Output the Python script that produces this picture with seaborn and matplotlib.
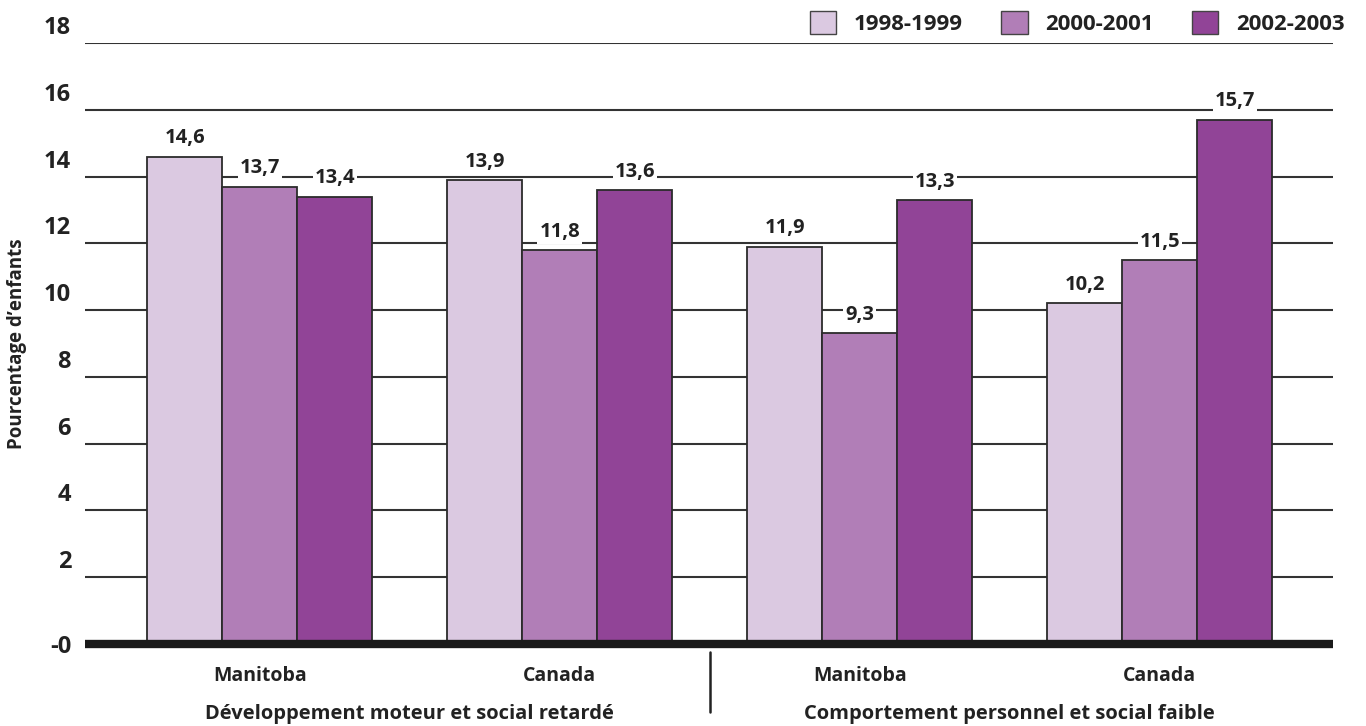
import matplotlib
matplotlib.use("Agg")
import matplotlib.pyplot as plt
import matplotlib.transforms as mtransforms
import seaborn as sns
import pandas as pd

# Data
groups = ["Développement moteur et social retardé", "Comportement personnel et social faible"]
regions = ["Manitoba", "Canada"]
periods = ["1998-1999", "2000-2001", "2002-2003"]
dev_manitoba = [14.6, 13.7, 13.4]
dev_canada = [13.9, 11.8, 13.6]
comp_manitoba = [11.9, 9.3, 13.3]
comp_canada = [10.2, 11.5, 15.7]
ytick_values = [0, 2, 4, 6, 8, 10, 12, 14, 16, 18]
ytick_labels = ["-0", "2", "4", "6", "8", "10", "12", "14", "16", "18"]
ylabel = "Pourcentage d’enfants"

colors = ["#DBC9E1", "#B17EB7", "#914497"]
edge = "#2b2b2b"
txt = "#222222"

series = [
    (groups[0], regions[0], dev_manitoba),
    (groups[0], regions[1], dev_canada),
    (groups[1], regions[0], comp_manitoba),
    (groups[1], regions[1], comp_canada),
]
rows = []
keys = []
for g, r, vals in series:
    key = f"{g} | {r}"
    keys.append(key)
    for p, v in zip(periods, vals):
        rows.append({"cat": key, "period": p, "value": v})
df = pd.DataFrame(rows)

sns.set_theme(style="white")
plt.rcParams["font.family"] = ["Open Sans", "DejaVu Sans"]

fig = plt.figure(figsize=(13.66, 7.26), dpi=100)
ax = fig.add_axes([0.0622, 0.1129, 0.9136, 0.8279])

sns.barplot(data=df, x="cat", y="value", hue="period", order=keys,
            hue_order=periods, palette=colors, saturation=1, width=0.75,
            dodge=True, edgecolor=edge, linewidth=1.3, errorbar=None,
            legend=True, ax=ax, zorder=3)

ax.set_xlim(-0.583, 3.577)
ax.set_ylim(0, 18)

# Gridlines
for v in ytick_values[1:]:
    ax.axhline(v, color="#333333", lw=1.5, zorder=1)

for s in ["top", "right", "left", "bottom"]:
    ax.spines[s].set_visible(False)

# Thick baseline
ax.axhline(0, color="#1a1a1a", lw=6, solid_capstyle="butt", clip_on=False, zorder=5)

# Y tick labels sit just above their gridlines
ax.set_yticks(ytick_values)
ax.set_yticklabels(ytick_labels, fontsize=17, fontweight="bold", color=txt)
ax.tick_params(axis="y", length=0, pad=10)
offset = mtransforms.ScaledTranslation(0, 18 / 100, fig.dpi_scale_trans)
for lab in ax.get_yticklabels():
    if lab.get_text() != "-0":
        lab.set_transform(lab.get_transform() + offset)

ax.set_ylabel(ylabel, fontsize=13.5, fontweight="bold", color=txt, labelpad=12)

# Category labels
ax.set_xticks(range(len(keys)))
ax.set_xticklabels([r for _, r, _ in series], fontsize=14, fontweight="bold", color=txt)
ax.tick_params(axis="x", length=0, pad=16)
ax.set_xlabel("")

# Group labels and separator
for i, g in enumerate(groups):
    ax.text(0.5 + 2 * i, -0.116, g, transform=ax.get_xaxis_transform(),
            ha="center", va="center", fontsize=14.5, fontweight="bold", color=txt)
ax.plot([1.5, 1.5], [-0.013, -0.113], transform=ax.get_xaxis_transform(),
        color=txt, lw=1.8, clip_on=False)

# Value labels
for cont in ax.containers:
    labels = [f"{b.get_height():.1f}".replace(".", ",") for b in cont]
    texts = ax.bar_label(cont, labels=labels, padding=6, fontsize=14.5,
                         fontweight="bold", color=txt)
    for t in texts:
        t.set_bbox(dict(facecolor="white", edgecolor="none", pad=1.5))
        t.set_zorder(4)

# Legend
ax.legend_.remove()
handles = [plt.Rectangle((0, 0), 1, 1, facecolor=c, edgecolor="#444444", lw=1) for c in colors]
leg = fig.legend(handles, periods, loc="upper right", bbox_to_anchor=(0.999, 1.012),
                 ncol=3, frameon=False, handlelength=1.2, handleheight=1.2,
                 columnspacing=1.7, handletextpad=0.8,
                 prop={"family": ["Open Sans", "DejaVu Sans"], "weight": "bold", "size": 16})
for t in leg.get_texts():
    t.set_color(txt)

fig.savefig("out.png", dpi=100, facecolor="white")
